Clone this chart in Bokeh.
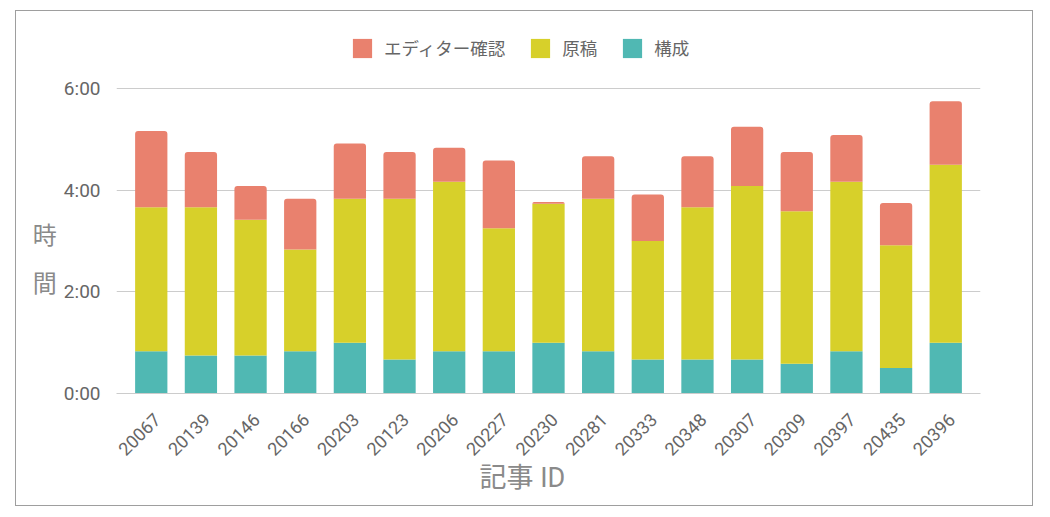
from bokeh.plotting import figure
from bokeh.models import (ColumnDataSource, Range1d, FixedTicker, Legend, LegendItem, Title)
from bokeh.transform import stack
from bokeh.embed import file_html
from bokeh.resources import INLINE

# ---- data (minutes) ----
article_ids = ["20067", "20139", "20146", "20166", "20203", "20123", "20206", "20227", "20230",
               "20281", "20333", "20348", "20307", "20309", "20397", "20435", "20396"]
kousei = [50, 45, 45, 50, 60, 40, 50, 50, 60, 50, 40, 40, 40, 35, 50, 30, 60]          # 構成
genkou = [170, 175, 160, 120, 170, 190, 200, 145, 164, 180, 140, 180, 205, 180, 200, 145, 210]  # 原稿
editor = [90, 65, 40, 60, 65, 55, 40, 80, 2, 50, 55, 60, 70, 70, 55, 50, 75]          # エディター確認
series_names = ["構成", "原稿", "エディター確認"]
tick_minutes = [0, 120, 240, 360]
tick_labels = ["0:00", "2:00", "4:00", "6:00"]

COL_TEAL = "#50B8B3"
COL_YEL = "#D7D02A"
COL_RED = "#E9816E"
FONT = "Roboto, 'Noto Sans CJK JP', sans-serif"

n = len(article_ids)
xpos = [i + 0.5 for i in range(n)]          # category slot centres
label_pos = [i + 0.62 for i in range(n)]    # where the rotated id labels are anchored

source = ColumnDataSource(dict(x=xpos, id=article_ids, kousei=kousei, genkou=genkou, editor=editor))

# frame extends above the 6:00 line so the legend can sit inside it
p = figure(
    x_range=Range1d(-0.2, n + 0.2),
    y_range=Range1d(0, 428.5),
    width=1018, height=496,
    output_backend="svg", toolbar_location=None,
    min_border_left=100, min_border_right=54, min_border_top=19, min_border_bottom=114,
    styles={"border": "1px solid #9e9e9e", "margin-left": "15px", "margin-top": "10px"},
)
p.outline_line_color = None

r1 = p.vbar(x="x", width=0.65, bottom=0, top=stack("kousei"), source=source,
            fill_color=COL_TEAL, line_color=None)
r2 = p.vbar(x="x", width=0.65, bottom=stack("kousei"), top=stack("kousei", "genkou"),
            source=source, fill_color=COL_YEL, line_color=None)
r3 = p.vbar(x="x", width=0.65, bottom=stack("kousei", "genkou"),
            top=stack("kousei", "genkou", "editor"), source=source,
            fill_color=COL_RED, line_color=None, border_radius=(3, 3, 0, 0))

# y axis
p.yaxis.ticker = FixedTicker(ticks=tick_minutes)
p.yaxis.major_label_overrides = {m: s for m, s in zip(tick_minutes, tick_labels)}
p.yaxis.axis_line_color = None
p.yaxis.major_tick_line_color = None
p.yaxis.minor_tick_line_color = None
p.yaxis.major_label_text_font = FONT
p.yaxis.major_label_text_font_size = "19px"
p.yaxis.major_label_text_color = "#666666"
p.yaxis.major_label_standoff = 10
p.yaxis.axis_label = "\n\n時\n間"
p.yaxis.axis_label_orientation = "horizontal"
p.yaxis.axis_label_text_font = FONT
p.yaxis.axis_label_text_font_size = "24px"
p.yaxis.axis_label_text_font_style = "normal"
p.yaxis.axis_label_text_color = "#8a8a8a"
p.yaxis.axis_label_text_line_height = 1.72
p.yaxis.axis_label_standoff = 4

# x axis
p.xaxis.ticker = FixedTicker(ticks=label_pos)
p.xaxis.major_label_overrides = {t: s for t, s in zip(label_pos, article_ids)}
p.xaxis.axis_line_color = "#cccccc"
p.xaxis.major_tick_line_color = None
p.xaxis.minor_tick_line_color = None
p.xaxis.major_label_orientation = 0.785398
p.xaxis.major_label_text_font = FONT
p.xaxis.major_label_text_font_size = "18px"
p.xaxis.major_label_text_color = "#666666"
p.xaxis.major_label_standoff = 17

p.xgrid.grid_line_color = None
p.ygrid.grid_line_color = "#cccccc"
p.ygrid.grid_line_width = 1

# x axis title
p.add_layout(Title(text="記事 ID", align="left", offset=363, text_font=FONT,
                   text_font_size="27px", text_font_style="normal", text_color="#8a8a8a",
                   vertical_align="top", standoff=-5), "below")

# legend (inside the extended frame, above the 6:00 grid line)
legend = Legend(
    items=[LegendItem(label=series_names[2], renderers=[r3]),
           LegendItem(label=series_names[1], renderers=[r2]),
           LegendItem(label=series_names[0], renderers=[r1])],
    location=(234, 333), orientation="horizontal",
    glyph_width=24, glyph_height=24, label_standoff=10, spacing=23,
    padding=0, margin=0, border_line_color=None, background_fill_alpha=0,
    label_text_font=FONT, label_text_font_size="17.5px", label_text_color="#666666",
)
p.add_layout(legend)

open("out.html", "w").write(file_html(p, INLINE))
